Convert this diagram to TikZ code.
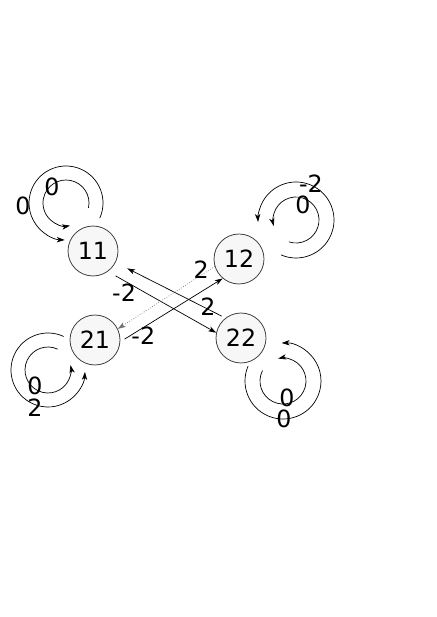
\documentclass[tikz,border=0pt]{standalone}
\usepackage{fontspec}
\setmainfont{DejaVu Sans}
\usetikzlibrary{arrows.meta}

\begin{document}
\begin{tikzpicture}[
    x=0.02cm, y=0.02cm,
    estado/.style={draw=black!75, circle, minimum size=1cm, inner sep=0pt,
                   fill=black!3, line width=0.45pt, font=\fontsize{13.5}{15}\selectfont},
    rel/.style={-{Stealth[length=4.5pt, width=3pt, inset=1.2pt]}, line width=0.4pt},
    debil/.style={rel, densely dotted, draw=black!55},
    etq/.style={font=\fontsize{13.5}{15}\selectfont, inner sep=0pt},
]
\useasboundingbox (0,0) rectangle (436,-617);

%% Estados: 11 y 21 a la izquierda, 12 y 22 a la derecha
\node[estado] at (93,-251)  (s11) {11};
\node[estado] at (239,-259) (s12) {12};
\node[estado] at (95,-340)  (s21) {21};
\node[estado] at (241,-338) (s22) {22};

%% Centros de los lazos
\coordinate (c11) at (66,-203);
\coordinate (c12) at (296,-220);
\coordinate (c21) at (48,-370);
\coordinate (c22) at (283,-381);

%% Relaciones cruzadas
\draw[rel, shorten <=5pt] (s11.-54) -- node[etq, pos=.195, xshift=-1mm, yshift=-1.8mm]{-2} (s22.168);
\draw[rel, shorten <=2.3pt, shorten >=7.4pt] (s22.128) -- node[etq, pos=.16, yshift=.4mm]{2} (s11.-27);
\draw[debil] (s12.197) -- node[etq, pos=.11, xshift=-.6mm, yshift=.8mm]{2} (s21.26);
\draw[rel, shorten <=2.8pt] (s21.-4) -- node[etq, pos=.19, xshift=.7mm, yshift=-1.1mm]{-2} (s12.230);

%% Lazos
\draw[rel] (c11) ++(-24:37) arc[start angle=-24, end angle=268, radius=37];
\draw[rel] (c11) ++(-12:23) arc[start angle=-12, end angle=280, radius=23];
\draw[rel] (c12) ++(247:38) arc[start angle=247, end angle=543, radius=38];
\draw[rel] (c12) ++(252:23) arc[start angle=252, end angle=555, radius=23];
\draw[rel] (c21) ++(65:37) arc[start angle=65, end angle=357, radius=37];
\draw[rel] (c21) ++(65:23) arc[start angle=65, end angle=372, radius=23];
\draw[rel] (c22) ++(157:38) arc[start angle=157, end angle=452, radius=38];
\draw[rel] (c22) ++(153:23) arc[start angle=153, end angle=462, radius=23];

%% Etiquetas de los lazos
\node[etq] at (23,-206)  (e11a) {0};
\node[etq] at (52,-187)  (e11b) {0};
\node[etq] at (311,-184) (e12a) {-2};
\node[etq] at (303,-205) (e12b) {0};
\node[etq] at (35,-386)  (e21a) {0};
\node[etq] at (35,-408)  (e21b) {2};
\node[etq] at (287,-398) (e22a) {0};
\node[etq] at (284,-419) (e22b) {0};
\end{tikzpicture}
\end{document}
